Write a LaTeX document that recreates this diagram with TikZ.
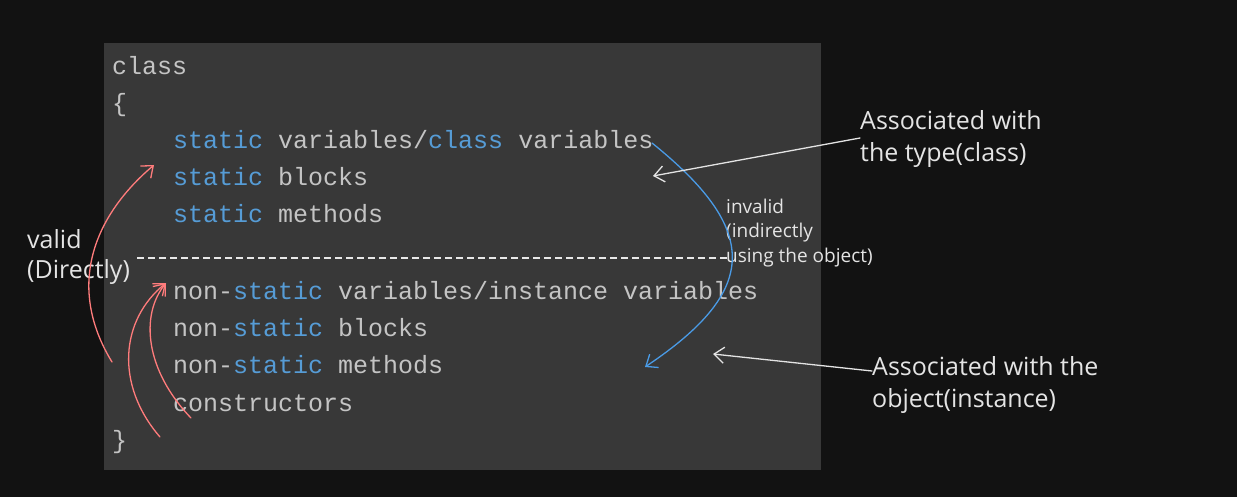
\documentclass[tikz,border=0pt]{standalone}
\usepackage{fontspec}
\setmainfont{Open Sans}
\setmonofont{Liberation Mono}
\usetikzlibrary{arrows.meta}

\definecolor{canvas}{HTML}{121212}
\definecolor{panel}{HTML}{383838}
\definecolor{codegray}{HTML}{C4C4C4}
\definecolor{kwblue}{HTML}{569CD6}
\definecolor{ink}{HTML}{E4E4E4}
\definecolor{redink}{HTML}{FF7C7C}
\definecolor{blueink}{HTML}{4A9BE6}

\newcommand{\kw}[1]{\textcolor{kwblue}{#1}}

\tikzset{
  codeline/.style={anchor=base west, inner sep=0pt, text=codegray, font=\ttfamily\fontsize{25}{25}\selectfont},
  note/.style={anchor=base west, inner sep=0pt, align=left, text=ink, font=\fontsize{25}{32}\selectfont},
  smallnote/.style={note, font=\fontsize{19}{24.5}\selectfont},
  pen/.style={line width=1.3pt, line cap=round, -{Straight Barb[length=10pt,width=16pt]}},
}

\begin{document}
\begin{tikzpicture}[x=1pt, y=-1pt]

\fill[canvas] (0,0) rectangle (1237,497);
\useasboundingbox (0,0) rectangle (1237,497);
\fill[panel] (104,43) rectangle (821,470);

\node[codeline] (cls) at (112,75) {class};
\node[codeline] (lbrace) at (112,112) {\{};
\node[codeline] (svars) at (173,149) {\kw{static} variables/\kw{class} variables};
\node[codeline] (sblocks) at (173,186) {\kw{static} blocks};
\node[codeline] (smethods) at (173,223) {\kw{static} methods};
\node[codeline] (nvars) at (173,299) {non-\kw{static} variables/instance variables};
\node[codeline] (nblocks) at (173,336) {non-\kw{static} blocks};
\node[codeline] (nmethods) at (173,373) {non-\kw{static} methods};
\node[codeline] (ctors) at (173,411) {constructors};
\node[codeline] (rbrace) at (112,448) {\}};

\coordinate (cutL) at (137,258);
\coordinate (cutR) at (728,258);
\draw[ink!85, line width=1.1pt, dash pattern=on 7pt off 4pt] (cutL) -- (cutR);

\node[note, font=\fontsize{25}{30}\selectfont] (valid) at (27,278) {valid\\(Directly)};
\node[smallnote] (invalid) at (726,262) {invalid\\(indirectly\\using the object)};
\node[note] (typenote) at (860,162) {Associated with\\the type(class)};
\node[note] (objnote) at (872,407) {Associated with the\\object(instance)};

\coordinate (r1s) at (112,362);
\coordinate (r1e) at (154,165);
\coordinate (r2s) at (160,437);
\coordinate (r3s) at (191,418);
\coordinate (r2e) at (166,283);
\draw[pen, redink] (r1s) .. controls (65,285) and (95,215) .. (r1e);
\draw[pen, redink] (r2s) .. controls (115,385) and (120,320) .. (r2e);
\draw[pen, redink] (r3s) .. controls (145,370) and (140,315) .. (r2e);

\coordinate (b1) at (652,143);
\coordinate (b2) at (645,367);
\draw[pen, blueink] (b1) .. controls (760,230) and (760,290) .. (b2);

\coordinate (typetip) at (653,176);
\coordinate (objtip) at (713,354);
\draw[pen, ink] (typenote.west |- 0,138) -- (typetip);
\draw[pen, ink] (objnote.west |- 0,371) -- (objtip);

\end{tikzpicture}
\end{document}
